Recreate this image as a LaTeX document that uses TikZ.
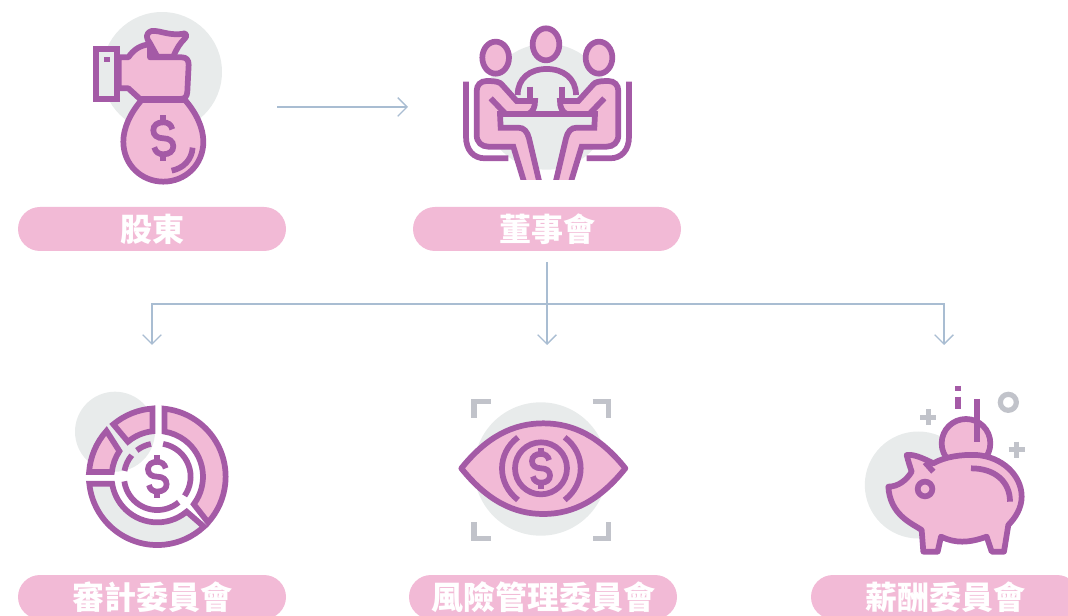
\documentclass[tikz,border=0pt]{standalone}
\usepackage{fontspec}
\usetikzlibrary{arrows.meta}
\newfontfamily\cjkface{Noto Sans CJK TC}
\definecolor{iconpurple}{HTML}{A45AA6}
\definecolor{iconpink}{HTML}{F2BAD6}
\definecolor{icongray}{HTML}{E8EBEB}
\definecolor{markgray}{HTML}{C1C3CA}
\definecolor{linkblue}{HTML}{A9BDD2}
\newcommand\dollarmark[3]{%
  \begin{scope}[shift={(#1,#2)},scale=#3]
    \draw[iconline,fill=none] (9,-9) .. controls (8,-14) and (4,-16) .. (0,-16)
      .. controls (-6,-16) and (-10,-13) .. (-10,-8) .. controls (-10,-3) and (-6,0) .. (0,0)
      .. controls (6,0) and (10,3) .. (10,8) .. controls (10,13) and (6,16) .. (0,16)
      .. controls (-4,16) and (-8,14) .. (-9,9);
    \draw[iconline] (0,-16) -- (0,-23) (0,16) -- (0,23);
  \end{scope}}
\newcommand\donutseg[7]{%
  \draw[iconline,fill=#1] (#2:#6) arc[start angle=#2,end angle=#3,radius=#6]
    -- (#5:#7) arc[start angle=#5,end angle=#4,radius=#7] -- cycle;}
\tikzset{
  iconline/.style={draw=iconpurple,line width=4.3pt},
  pinkshape/.style={iconline,fill=iconpink},
  backdisc/.style={fill=icongray},
  markline/.style={draw=markgray,line width=3.9pt},
  pill/.style={fill=iconpink,rounded corners=16.5pt,minimum width=201pt,minimum height=33pt,inner sep=0pt,
    text=white,font=\cjkface\bfseries\fontsize{24pt}{26pt}\selectfont},
  link/.style={draw=linkblue,line width=0.95pt},
  linktip/.style={link,-{Straight Barb[length=7pt,width=14pt]}}
}
\begin{document}
\begin{tikzpicture}[x=0.75pt,y=-0.75pt]
\useasboundingbox (0,0) rectangle (1068,616);
\clip (0,0) rectangle (1068,616);

% money bag
\fill[backdisc] (162,72) circle (60);
\begin{scope}[shift={(70,0)},scale=1/3]
  \draw[iconline,fill=icongray] (78,146) rectangle (142,297);
  \fill[iconpurple] (103,170) rectangle (119,186);
  \draw[pinkshape,line join=round] (262,170) -- (240,130) .. controls (228,115) and (225,100) .. (245,93)
    .. controls (270,90) and (300,110) .. (345,100) .. controls (352,105) and (350,110) .. (345,115)
    .. controls (330,130) and (320,145) .. (310,170) -- cycle;
  \draw[pinkshape,line join=round] (146,172) -- (175,172) .. controls (190,150) and (210,135) .. (240,133)
    -- (240,172) -- (335,172) .. controls (350,172) and (356,180) .. (356,195)
    -- (352,275) .. controls (351,290) and (345,297) .. (330,297) -- (210,297) -- (175,265) -- (146,265) -- cycle;
  \draw[pinkshape] (215,300) .. controls (180,340) and (160,385) .. (160,425)
    .. controls (160,495) and (215,545) .. (280,545) .. controls (345,545) and (400,495) .. (400,425)
    .. controls (400,385) and (380,340) .. (345,300) -- cycle;
  \draw[iconline] (305,512) .. controls (340,505) and (365,480) .. (368,443);
\end{scope}
\dollarmark{163.3}{138.3}{1}

% board
\begin{scope}
  \clip (440,0) rectangle (660,180);
  \fill[backdisc] (546.7,106.7) circle (63);
  \begin{scope}[shift={(450,15)},scale=1/3]
    \draw[iconline] (203,240) .. controls (203,190) and (240,162) .. (290,162)
      .. controls (340,162) and (378,190) .. (378,240);
    \draw[iconline] (240,215) -- (240,255) (337,215) -- (337,255);
    \draw[pinkshape] (288,88) ellipse (40 and 48);
    \fill[backdisc] (160,297) rectangle (425,335);
    \draw[pinkshape] (137,128) ellipse (40 and 48);
    \draw[pinkshape] (447,128) ellipse (40 and 48);
    \draw[iconline] (48,200) -- (48,365) .. controls (48,405) and (70,430) .. (105,430) -- (175,430);
    \draw[iconline] (537,200) -- (537,365) .. controls (537,405) and (515,430) .. (480,430) -- (410,430);
    \draw[pinkshape] (150,297) -- (235,297) .. controls (250,290) and (255,275) .. (255,258) -- (200,258)
      -- (155,208) .. controls (150,202) and (140,198) .. (110,198) .. controls (92,198) and (80,210) .. (80,228)
      -- (80,360) .. controls (80,382) and (95,395) .. (115,395) -- (190,395) -- (225,510) -- (270,510)
      -- (237,370) .. controls (232,350) and (222,338) .. (205,338) -- (152,338) -- cycle;
    \draw[pinkshape] (435,297) -- (350,297) .. controls (335,290) and (330,275) .. (330,258) -- (385,258)
      -- (430,208) .. controls (435,202) and (445,198) .. (475,198) .. controls (493,198) and (505,210) .. (505,228)
      -- (505,360) .. controls (505,382) and (490,395) .. (470,395) -- (395,395) -- (360,510) -- (315,510)
      -- (348,370) .. controls (353,350) and (363,338) .. (380,338) -- (433,338) -- cycle;
    \draw[iconline] (122,250) -- (165,295) (463,250) -- (420,295);
    \draw[iconline] (150,297) -- (435,297);
  \end{scope}
\end{scope}

% audit
\fill[backdisc] (115,431.7) circle (40);
\begin{scope}[shift={(157.3,476.7)},x=0.25pt,y=0.25pt]
  \donutseg{iconpink}{84}{-42}{81}{-37}{205}{137}
  \donutseg{icongray}{186}{313}{189}{310}{205}{137}
  \donutseg{iconpink}{94}{130}{96}{130}{205}{137}
  \donutseg{iconpink}{138}{176}{146}{174}{205}{137}
  \draw[iconline] (80:100) arc[start angle=80,end angle=-35,radius=100];
  \draw[iconline] (-50:100) arc[start angle=-50,end angle=-172,radius=100];
  \draw[iconline] (170:100) arc[start angle=170,end angle=140,radius=100];
  \draw[iconline] (128:100) arc[start angle=128,end angle=101,radius=100];
\end{scope}
\dollarmark{157.3}{476.7}{0.93}

% eye
\fill[backdisc] (540.7,469) circle (66.7);
\begin{scope}[shift={(450,390)},scale=1/3]
  \draw[markline] (122,35) -- (72,35) -- (72,83);
  \draw[markline] (428,35) -- (475,35) -- (475,83);
  \draw[markline] (72,397) -- (72,445) -- (122,445);
  \draw[markline] (475,397) -- (475,445) -- (428,445);
  \draw[pinkshape,line join=round] (34,235) .. controls (110,140) and (190,100) .. (280,100)
    .. controls (370,100) and (450,140) .. (526,235)
    .. controls (450,330) and (370,372) .. (280,372)
    .. controls (190,372) and (110,330) .. (34,235) -- cycle;
  \draw[iconline] (273,235) circle (78);
  \draw[iconline] (204,142) .. controls (140,190) and (140,280) .. (204,330);
  \draw[iconline] (344,142) .. controls (408,190) and (408,280) .. (344,330);
\end{scope}
\dollarmark{541}{468.3}{0.9}

% piggy
\fill[backdisc] (918.3,485) circle (53.5);
\begin{scope}[shift={(855,375)},scale=1/3]
  \draw[markline] (460,82) circle (24);
  \draw[markline] (196,127) -- (244,127) (220,103) -- (220,151);
  \draw[markline] (461,224) -- (509,224) (485,200) -- (485,248);
  \draw[iconline] (308,33) -- (308,47) (308,65) -- (308,103);
  \draw[pinkshape] (333,205) circle (73);
  \draw[iconline] (365,72) -- (365,200);
  \draw[pinkshape,line join=round] (155,240) .. controls (175,238) and (195,245) .. (235,265)
    .. controls (270,245) and (320,238) .. (365,240) .. controls (440,245) and (500,300) .. (500,365)
    .. controls (500,400) and (480,430) .. (460,450) -- (447,530) -- (410,530) -- (395,485)
    .. controls (340,505) and (300,505) .. (258,485) -- (248,530) -- (205,530) -- (200,465)
    .. controls (170,445) and (105,420) .. (100,335)
    .. controls (130,335) and (155,315) .. (170,290) .. controls (165,275) and (160,260) .. (155,240) -- cycle;
  \draw[iconline] (210,262) -- (235,290);
  \draw[pinkshape] (210,342) circle (22);
  \draw[iconline] (348,280) .. controls (420,280) and (465,320) .. (465,380);
\end{scope}

% labels
\node[pill] (holders) at (152,229) {股東};
\node[pill] (board) at (547,229) {董事會};
\node[pill] (audit) at (152,597) {審計委員會};
\node[pill] (risk) at (543,597) {風險管理委員會};
\node[pill] (pay) at (945,597) {薪酬委員會};

% connectors
\coordinate (holdersout) at (277,107);
\coordinate (boardin) at (408,107);
\coordinate (boardout) at (547,262);
\coordinate (branch) at (547,304);
\coordinate (auditin) at (152,345);
\coordinate (riskin) at (547,345);
\coordinate (payin) at (944,345);
\draw[linktip] (holdersout) -- (boardin);
\draw[linktip] (boardout) -- (riskin);
\draw[linktip] (branch) -| (auditin);
\draw[linktip] (branch) -| (payin);
\end{tikzpicture}
\end{document}
